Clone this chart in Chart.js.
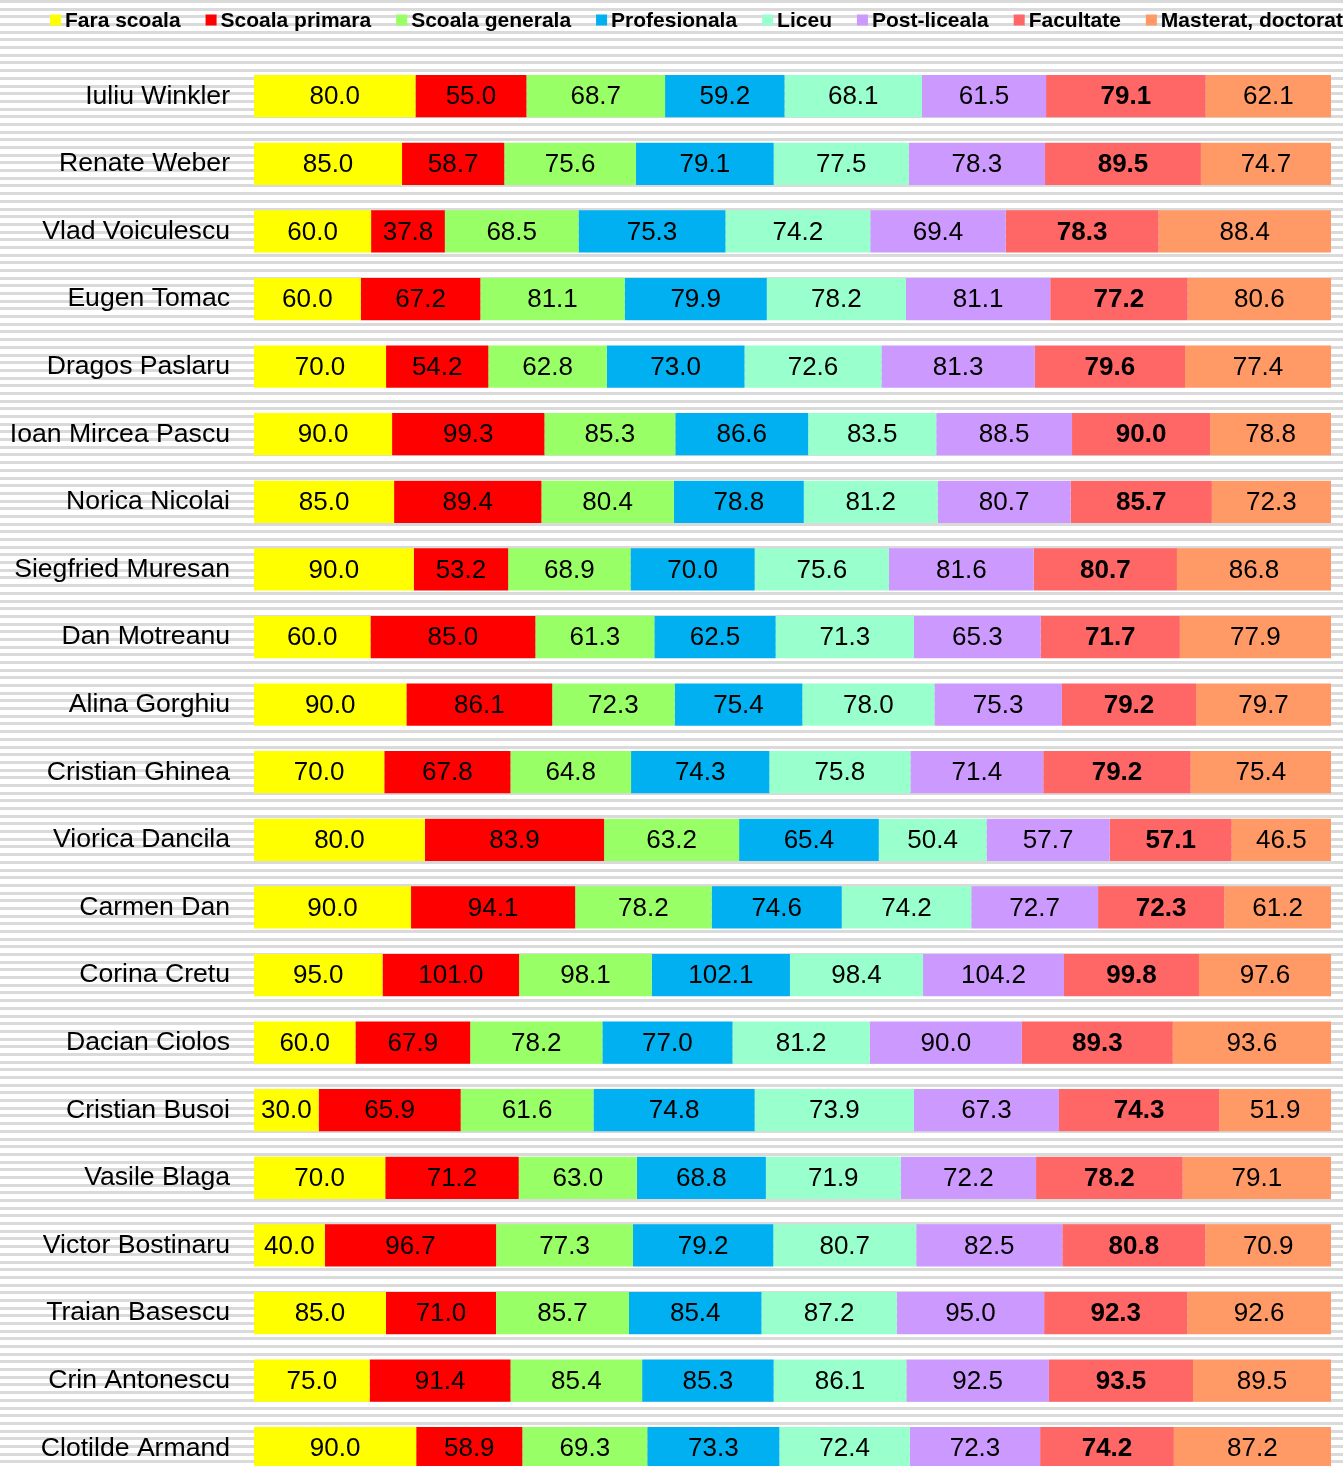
<!DOCTYPE html>
<html>
<head>
<meta charset="utf-8">
<script src="https://cdn.jsdelivr.net/npm/chart.js@4.4.1/dist/chart.umd.min.js"></script>
<style>
html,body{margin:0;padding:0;overflow:hidden;background:#fff;}
canvas{display:block;}
</style>
</head>
<body>
<canvas id="c" width="1343" height="1522" style="width:1343px;height:1522px"></canvas>
<script>
const categories = ["Iuliu Winkler","Renate Weber","Vlad Voiculescu","Eugen Tomac","Dragos Paslaru","Ioan Mircea Pascu","Norica Nicolai","Siegfried Muresan","Dan Motreanu","Alina Gorghiu","Cristian Ghinea","Viorica Dancila","Carmen Dan","Corina Cretu","Dacian Ciolos","Cristian Busoi","Vasile Blaga","Victor Bostinaru","Traian Basescu","Crin Antonescu","Clotilde Armand"];
const seriesNames = ["Fara scoala","Scoala primara","Scoala generala","Profesionala","Liceu","Post-liceala","Facultate","Masterat, doctorat"];
const faraScoala     = [80.0,85.0,60.0,60.0,70.0,90.0,85.0,90.0,60.0,90.0,70.0,80.0,90.0,95.0,60.0,30.0,70.0,40.0,85.0,75.0,90.0];
const scoalaPrimara  = [55.0,58.7,37.8,67.2,54.2,99.3,89.4,53.2,85.0,86.1,67.8,83.9,94.1,101.0,67.9,65.9,71.2,96.7,71.0,91.4,58.9];
const scoalaGenerala = [68.7,75.6,68.5,81.1,62.8,85.3,80.4,68.9,61.3,72.3,64.8,63.2,78.2,98.1,78.2,61.6,63.0,77.3,85.7,85.4,69.3];
const profesionala   = [59.2,79.1,75.3,79.9,73.0,86.6,78.8,70.0,62.5,75.4,74.3,65.4,74.6,102.1,77.0,74.8,68.8,79.2,85.4,85.3,73.3];
const liceu          = [68.1,77.5,74.2,78.2,72.6,83.5,81.2,75.6,71.3,78.0,75.8,50.4,74.2,98.4,81.2,73.9,71.9,80.7,87.2,86.1,72.4];
const postLiceala    = [61.5,78.3,69.4,81.1,81.3,88.5,80.7,81.6,65.3,75.3,71.4,57.7,72.7,104.2,90.0,67.3,72.2,82.5,95.0,92.5,72.3];
const facultate      = [79.1,89.5,78.3,77.2,79.6,90.0,85.7,80.7,71.7,79.2,79.2,57.1,72.3,99.8,89.3,74.3,78.2,80.8,92.3,93.5,74.2];
const masterat       = [62.1,74.7,88.4,80.6,77.4,78.8,72.3,86.8,77.9,79.7,75.4,46.5,61.2,97.6,93.6,51.9,79.1,70.9,92.6,89.5,87.2];

const seriesValues = [faraScoala,scoalaPrimara,scoalaGenerala,profesionala,liceu,postLiceala,facultate,masterat];
const seriesColors = ["#FFFF00","#FF0000","#99FF66","#00B0F0","#99FFCC","#CC99FF","#FF6666","#FF9966"];
const boldSeries = 6;

const rowSums = categories.map((_, i) => seriesValues.reduce((s, arr) => s + arr[i], 0));

const datasets = seriesNames.map((name, k) => ({
  label: name,
  data: seriesValues[k].map((v, i) => v / rowSums[i] * 100),
  raw: seriesValues[k],
  backgroundColor: seriesColors[k],
  borderWidth: 0,
  categoryPercentage: 1,
  barPercentage: 0.625
}));

const stripes = {
  id: 'stripes',
  beforeDraw(chart) {
    const ctx = chart.ctx, W = chart.width, H = chart.height;
    ctx.save();
    ctx.fillStyle = '#ffffff';
    ctx.fillRect(0, 0, W, H);
    ctx.fillStyle = '#dadada';
    const p = 7.686;
    for (let k = 0; k * p < H; k++) {
      ctx.fillRect(0, Math.round(k * p), W, 3);
    }
    ctx.restore();
  }
};

const legendPlugin = {
  id: 'customLegend',
  afterDraw(chart) {
    const ctx = chart.ctx;
    ctx.save();
    ctx.font = 'bold 21px "Liberation Sans", Arial, sans-serif';
    ctx.textBaseline = 'middle';
    ctx.textAlign = 'left';
    let x = 50;
    const y = 20;
    seriesNames.forEach((name, k) => {
      ctx.fillStyle = seriesColors[k];
      ctx.fillRect(x, y - 5.5, 11, 11);
      ctx.fillStyle = '#000';
      ctx.fillText(name, x + 15, y + 1);
      x += 15 + ctx.measureText(name).width + 25;
    });
    ctx.restore();
  }
};

const valueLabels = {
  id: 'valueLabels',
  afterDatasetsDraw(chart) {
    const ctx = chart.ctx;
    ctx.save();
    ctx.textAlign = 'center';
    ctx.textBaseline = 'middle';
    ctx.fillStyle = '#000';
    chart.data.datasets.forEach((ds, k) => {
      const meta = chart.getDatasetMeta(k);
      ctx.font = (k === boldSeries ? 'bold ' : '') + '26px "Liberation Sans", Arial, sans-serif';
      meta.data.forEach((bar, i) => {
        const cx = (bar.x + bar.base) / 2;
        ctx.fillText(ds.raw[i].toFixed(1), cx, bar.y + 1);
      });
    });
    ctx.restore();
  }
};

new Chart(document.getElementById('c'), {
  type: 'bar',
  data: { labels: categories, datasets: datasets },
  options: {
    indexAxis: 'y',
    responsive: false,
    animation: false,
    devicePixelRatio: 1,
    layout: { padding: { top: 62.4, right: 12, bottom: 7.4, left: 0 } },
    plugins: { legend: { display: false }, tooltip: { enabled: false } },
    scales: {
      x: { stacked: true, min: 0, max: 100, display: false },
      y: {
        stacked: true,
        grid: { display: false, drawTicks: false },
        border: { display: false },
        ticks: { color: '#000', padding: 24, font: { family: '"Liberation Sans", Arial, sans-serif', size: 26.6 } },
        afterFit(scale) { scale.width = 254; }
      }
    }
  },
  plugins: [stripes, legendPlugin, valueLabels]
});
</script>
</body>
</html>
